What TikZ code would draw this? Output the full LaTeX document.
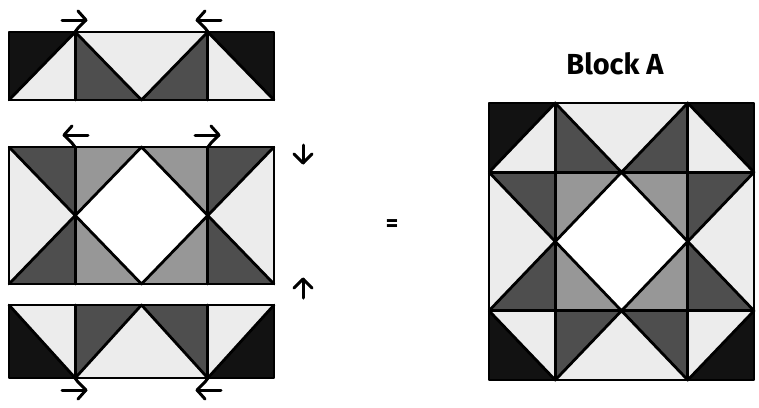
\documentclass[tikz,border=0pt]{standalone}
\usepackage{fontspec}
\setsansfont{Fira Sans}
\usetikzlibrary{arrows.meta, calc}

\definecolor{blk}{HTML}{121212}
\definecolor{drk}{HTML}{4E4E4E}
\definecolor{mid}{HTML}{979797}
\definecolor{lgt}{HTML}{ECECEC}

% one row of the block, 4 x 1 units
\newcommand{\quiltTop}{%
  \fill[blk] (0,0) -- (0,1) -- (1,1) -- cycle;
  \fill[lgt] (0,0) -- (1,1) -- (1,0) -- cycle;
  \fill[drk] (1,1) -- (2,0) -- (1,0) -- cycle;
  \fill[lgt] (1,1) -- (3,1) -- (2,0) -- cycle;
  \fill[drk] (2,0) -- (3,1) -- (3,0) -- cycle;
  \fill[lgt] (3,1) -- (4,0) -- (3,0) -- cycle;
  \fill[blk] (3,1) -- (4,1) -- (4,0) -- cycle;
  \draw[seam] (0,0) -- (1,1) -- (2,0) -- (3,1) -- (4,0);
  \draw[seam] (1,0) -- (1,1) (3,0) -- (3,1);
  \draw[seam] (0,0) rectangle (4,1);
}
% the two middle rows, 4 x 2 units
\newcommand{\quiltMid}{%
  \fill[lgt] (0,0) -- (0,2) -- (1,1) -- cycle;
  \fill[drk] (0,2) -- (1,2) -- (1,1) -- cycle;
  \fill[drk] (0,0) -- (1,0) -- (1,1) -- cycle;
  \fill[mid] (1,2) -- (2,2) -- (1,1) -- cycle;
  \fill[mid] (1,0) -- (2,0) -- (1,1) -- cycle;
  \fill[white] (2,2) -- (1,1) -- (2,0) -- (3,1) -- cycle;
  \fill[mid] (2,2) -- (3,2) -- (3,1) -- cycle;
  \fill[mid] (2,0) -- (3,0) -- (3,1) -- cycle;
  \fill[drk] (3,2) -- (4,2) -- (3,1) -- cycle;
  \fill[drk] (3,0) -- (4,0) -- (3,1) -- cycle;
  \fill[lgt] (4,2) -- (4,0) -- (3,1) -- cycle;
  \draw[seam] (0,2) -- (1,1) -- (0,0) (4,2) -- (3,1) -- (4,0);
  \draw[seam] (1,1) -- (2,2) -- (3,1) -- (2,0) -- cycle;
  \draw[seam] (1,0) -- (1,2) (3,0) -- (3,2);
  \draw[seam] (0,0) rectangle (4,2);
}
\newcommand{\quiltBot}{%
  \fill[blk] (0,1) -- (0,0) -- (1,0) -- cycle;
  \fill[lgt] (0,1) -- (1,1) -- (1,0) -- cycle;
  \fill[drk] (1,1) -- (2,1) -- (1,0) -- cycle;
  \fill[lgt] (1,0) -- (2,1) -- (3,0) -- cycle;
  \fill[drk] (2,1) -- (3,1) -- (3,0) -- cycle;
  \fill[lgt] (3,1) -- (4,1) -- (3,0) -- cycle;
  \fill[blk] (4,1) -- (4,0) -- (3,0) -- cycle;
  \draw[seam] (0,1) -- (1,0) -- (2,1) -- (3,0) -- (4,1);
  \draw[seam] (1,0) -- (1,1) (3,0) -- (3,1);
  \draw[seam] (0,0) rectangle (4,1);
}
% pressing arrow at a seam point: #2 = direction (1 right, -1 left), #3 = -1 above, 1 below
\newcommand{\pressarrow}[3]{%
  \draw[press] ($(#1)+({-13*#2},{12*#3})$) -- ($(#1)+({11*#2},{12*#3})$);
  \draw[press] ($(#1)+({3*#2},{21*#3})$) -- ($(#1)+({11*#2},{12*#3})$)
    -- ($(#1)+({3*#2},{4*#3})$) -- (#1);
}

\begin{document}
\begin{tikzpicture}[
  x=1pt, y=-1pt,
  seam/.style = {line width=2.8pt, line join=round, line cap=round},
  press/.style = {line width=3pt, line cap=round, line join=round},
  title/.style = {font=\sffamily\bfseries\fontsize{29}{32}\selectfont}
  ]
\useasboundingbox (0,0) rectangle (759,407);

% the three pieces
\begin{scope}[shift={(9,100)}, x=66.25pt, y=68pt]
  \quiltTop
\end{scope}
\begin{scope}[shift={(9,284)}, x=66.25pt, y=68.5pt]
  \quiltMid
\end{scope}
\begin{scope}[shift={(9,378)}, x=66.25pt, y=73pt]
  \quiltBot
\end{scope}

% pressing directions
\coordinate (topL) at (75,32);
\coordinate (topR) at (208,32);
\coordinate (midL) at (75,147);
\coordinate (midR) at (208,147);
\coordinate (botL) at (75,378);
\coordinate (botR) at (208,378);
\pressarrow{topL}{1}{-1}
\pressarrow{topR}{-1}{-1}
\pressarrow{midL}{-1}{-1}
\pressarrow{midR}{1}{-1}
\pressarrow{botL}{1}{1}
\pressarrow{botR}{-1}{1}

\coordinate (dnA) at (303,145);
\coordinate (dnB) at (303,163);
\coordinate (upA) at (303,298);
\coordinate (upB) at (303,279);
\draw[press] (dnA) -- (dnB);
\draw[press] ($(dnB)+(-9,-9)$) -- (dnB) -- ($(dnB)+(9,-9)$);
\draw[press] (upA) -- (upB);
\draw[press] ($(upB)+(-9,9)$) -- (upB) -- ($(upB)+(9,9)$);

\node[font=\sffamily\bfseries\fontsize{24}{24}\selectfont] (equals) at (392,226) {=};

% finished block
\node[title] (blockname) at (615,64) {Block A};
\begin{scope}[shift={(489,380)}, x=66.25pt, y=69.25pt]
  \quiltBot
  \begin{scope}[shift={(0,1)}]
    \quiltMid
  \end{scope}
  \begin{scope}[shift={(0,3)}]
    \quiltTop
  \end{scope}
\end{scope}

\end{tikzpicture}
\end{document}
